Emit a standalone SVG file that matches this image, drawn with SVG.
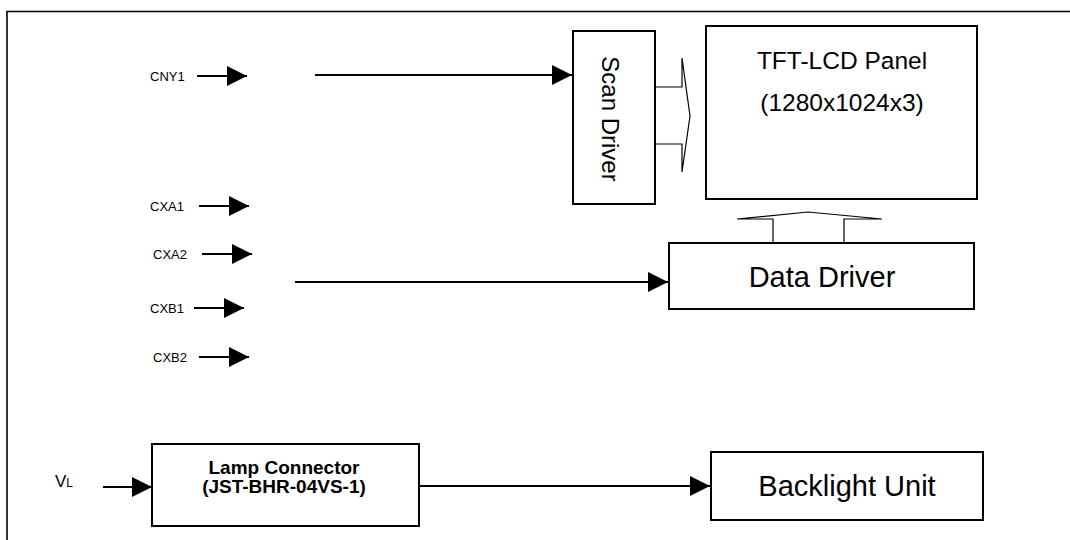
<svg xmlns="http://www.w3.org/2000/svg" width="1070" height="540" viewBox="0 0 1070 540">
  <style>
    .box { fill: #ffffff; stroke: #000000; stroke-width: 2; }
    .frame { fill: none; stroke: #000000; stroke-width: 1.6; }
    .wire { fill: none; stroke: #000000; stroke-width: 1.8; }
    .hollow { fill: #ffffff; stroke: #000000; stroke-width: 1.2; stroke-linejoin: miter; }
    .t { font-family: "Liberation Sans", Arial, sans-serif; fill: #000000; }
    .lbl { font-size: 13px; }
    .big { font-size: 29px; text-anchor: middle; }
    .mid { font-size: 24.5px; text-anchor: middle; }
    .bold { font-size: 19px; font-weight: bold; text-anchor: middle; }
  </style>
  <defs>
    <marker id="ah" viewBox="0 0 20 20" refX="20" refY="10" markerWidth="20" markerHeight="20" markerUnits="userSpaceOnUse" orient="auto">
      <path d="M0,0 L20,10 L0,20 z" fill="#000000"/>
    </marker>
  </defs>

  <rect width="1070" height="540" fill="#ffffff"/>

  <g id="frame">
    <path class="frame" d="M7,545 V11.5 H1075"/>
  </g>

  <g id="scan-driver">
    <rect class="box" x="573" y="31" width="82" height="173"/>
    <text class="t" font-size="24" text-anchor="middle" transform="translate(602,119) rotate(90)">Scan Driver</text>
  </g>

  <g id="tft-panel">
    <rect class="box" x="706" y="26" width="271" height="173"/>
    <text class="t mid" x="842" y="69">TFT-LCD Panel</text>
    <text class="t mid" x="842" y="111">(1280x1024x3)</text>
  </g>

  <g id="data-driver">
    <rect class="box" x="669" y="243" width="305" height="66"/>
    <text class="t big" x="822" y="287">Data Driver</text>
  </g>

  <g id="lamp-connector">
    <rect class="box" x="152" y="444" width="267" height="82"/>
    <text class="t bold" x="284" y="474">Lamp Connector</text>
    <text class="t bold" x="284" y="493">(JST-BHR-04VS-1)</text>
  </g>

  <g id="backlight-unit">
    <rect class="box" x="711" y="452" width="272" height="68"/>
    <text class="t big" x="847" y="496">Backlight Unit</text>
  </g>

  <g id="input-cny1">
    <text class="t lbl" x="150" y="81">CNY1</text>
  </g>
  <g id="input-cxa1">
    <text class="t lbl" x="150" y="211">CXA1</text>
  </g>
  <g id="input-cxa2">
    <text class="t lbl" x="153" y="259">CXA2</text>
  </g>
  <g id="input-cxb1">
    <text class="t lbl" x="150" y="313">CXB1</text>
  </g>
  <g id="input-cxb2">
    <text class="t lbl" x="153" y="362">CXB2</text>
  </g>
  <g id="input-vl">
    <text class="t" font-size="17" x="55" y="487">V<tspan font-size="12">L</tspan></text>
  </g>

  <g id="connectors">
    <line class="wire" x1="197" y1="76" x2="247" y2="76" marker-end="url(#ah)"/>
    <line class="wire" x1="315" y1="75" x2="572" y2="75" marker-end="url(#ah)"/>
    <line class="wire" x1="199" y1="206" x2="249" y2="206" marker-end="url(#ah)"/>
    <line class="wire" x1="202" y1="254" x2="252" y2="254" marker-end="url(#ah)"/>
    <line class="wire" x1="295" y1="282" x2="668" y2="282" marker-end="url(#ah)"/>
    <line class="wire" x1="194" y1="308" x2="244" y2="308" marker-end="url(#ah)"/>
    <line class="wire" x1="199" y1="357" x2="249" y2="357" marker-end="url(#ah)"/>
    <line class="wire" x1="103" y1="487" x2="152" y2="487" marker-end="url(#ah)"/>
    <line class="wire" x1="419" y1="486" x2="710" y2="486" marker-end="url(#ah)"/>
    <path class="hollow" d="M656,87 H682 V58 L690,116 L682,172 V144 H656"/>
    <path class="hollow" d="M773,242 V219 H737 L808,212 L882,219 H844 V242"/>
  </g>
</svg>
